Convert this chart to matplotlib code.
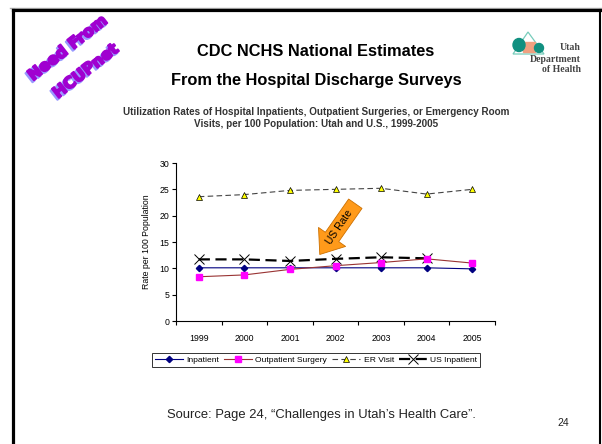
import numpy as np
import matplotlib.pyplot as plt
from matplotlib.patches import FancyArrowPatch, Polygon, Ellipse, Rectangle
from matplotlib.lines import Line2D
import matplotlib.patheffects as pe

plt.rcParams['font.family'] = ['Liberation Sans', 'DejaVu Sans']

years = ['1999', '2000', '2001', '2002', '2003', '2004', '2005']
inpatient = [10.1, 10.1, 10.1, 10.1, 10.1, 10.1, 9.9]
outpatient = [8.4, 8.75, 9.8, 10.5, 11.1, 11.8, 11.0]
er_visit = [23.6, 24.0, 24.8, 25.0, 25.2, 24.1, 25.0]
us_inpatient = [11.7, 11.7, 11.4, 11.8, 12.1, 11.9]

fig = plt.figure(figsize=(6.02, 4.44), dpi=100)
W, H = 602, 444

def fx(px):
    return px / W

def fy(py):
    return 1 - py / H

# slide frame
fig.add_artist(Line2D([fx(10), fx(602)], [fy(8), fy(8)], color='#aaaaaa', lw=1))
fig.add_artist(Line2D([fx(13), fx(13)], [fy(10), 0], color='black', lw=2.3))
fig.add_artist(Line2D([fx(13), fx(600)], [fy(10), fy(10)], color='black', lw=2.3))
fig.add_artist(Line2D([fx(600), fx(600)], [fy(10), 0], color='black', lw=1.5))

# titles
fig.text(fx(316), fy(52), 'CDC NCHS National Estimates', ha='center', va='center',
         fontsize=11.8, fontweight='bold')
fig.text(fx(316), fy(81), 'From the Hospital Discharge Surveys', ha='center', va='center',
         fontsize=11.8, fontweight='bold')
fig.text(fx(316), fy(118), 'Utilization Rates of Hospital Inpatients, Outpatient Surgeries, or Emergency Room\n'
         'Visits, per 100 Population: Utah and U.S., 1999-2005', ha='center', va='center',
         fontsize=7.1, fontweight='bold', color='#333333', linespacing=1.3)

# "Need From HCUPnet" stamp
for txt, (cx, cy) in [('Need From', (68, 48)), ('HCUPnet', (86, 71))]:
    fig.text(fx(cx - 1.5), fy(cy + 2), txt, ha='center', va='center', rotation=38,
             fontsize=11.3, fontweight='bold', color='#9999ff', family='DejaVu Sans',
             path_effects=[pe.withStroke(linewidth=1.4, foreground='#9999ff')])
    fig.text(fx(cx), fy(cy), txt, ha='center', va='center', rotation=38,
             fontsize=11.3, fontweight='bold', color='#a000d0', family='DejaVu Sans',
             path_effects=[pe.withStroke(linewidth=1.4, foreground='#a000d0')])

# logo
fig.add_artist(Polygon([[fx(513), fy(54)], [fx(528), fy(32)], [fx(544), fy(54)]],
                       closed=True, fill=False, ec='#77ccbb', lw=0.9))
fig.add_artist(Rectangle((fx(523), fy(52)), fx(12), 10 / H, color='#f0a080'))
fig.add_artist(Ellipse((fx(519), fy(45)), fx(12), 13 / H, color='#119080'))
fig.add_artist(Ellipse((fx(539), fy(48)), fx(9), 9 / H, color='#119080'))
logo_font = ['Liberation Serif', 'DejaVu Serif']
fig.text(fx(581), fy(47), 'Utah', ha='right', va='center', fontsize=7, family=logo_font,
         fontweight='bold', color='#444444')
fig.text(fx(581), fy(59), 'Department', ha='right', va='center', fontsize=7, family=logo_font,
         fontweight='bold', color='#444444')
fig.text(fx(581), fy(70), 'of Health', ha='right', va='center', fontsize=7, family=logo_font,
         fontweight='bold', color='#444444')

# chart
ax = fig.add_axes([fx(176), fy(321), fx(495 - 176), (321 - 163) / H])
x = np.arange(len(years))
ax.plot(x, er_visit, color='#444444', lw=0.8, ls=(0, (5, 3)), marker='^', ms=4.5,
        mfc='#ffff00', mec='black', mew=0.5, label='ER Visit')
ax.plot(x[:len(us_inpatient)], us_inpatient, color='black', lw=1.6, ls=(0, (5, 2.5)),
        marker='x', ms=7, mec='black', mew=0.7, label='US Inpatient')
ax.plot(x, inpatient, color='#000080', lw=0.8, marker='D', ms=3.2, mfc='#000080',
        mec='#000080', label='Inpatient')
ax.plot(x, outpatient, color='#993333', lw=0.8, marker='s', ms=4, mfc='#ff00ff',
        mec='#ff00ff', label='Outpatient Surgery')

ax.set_xlim(-0.5, len(years) - 0.5)
ax.set_ylim(0, 30)
ax.set_yticks(range(0, 31, 5))
ax.set_xticks(x)
ax.set_xticklabels(years)
ax.set_xticks(np.arange(-0.5, len(years), 1), minor=True)
ax.tick_params(axis='x', which='major', length=0, labelsize=6.3, pad=9)
ax.tick_params(axis='x', which='minor', length=3, width=0.8, direction='out')
ax.tick_params(axis='y', length=3, width=0.8, labelsize=6.3, pad=2)
for s in ['top', 'right']:
    ax.spines[s].set_visible(False)
for s in ['left', 'bottom']:
    ax.spines[s].set_linewidth(0.8)
ax.set_ylabel('Rate per 100 Population', fontsize=6.3, labelpad=6)

# "US Rate" arrow
arr = FancyArrowPatch((3.47, 22.7), (2.62, 12.2), transform=ax.transData,
                      arrowstyle='simple,head_length=0.55,head_width=0.85,tail_width=0.42',
                      mutation_scale=28, fc='#ff9a1a', ec='#cc7000', lw=0.6, zorder=5)
ax.add_patch(arr)
ax.text(3.08, 17.9, 'US Rate', rotation=56, ha='center', va='center', fontsize=7.5,
        color='black', zorder=6)

handles, labels = ax.get_legend_handles_labels()
order = [2, 3, 0, 1]
leg = fig.legend([handles[i] for i in order], [labels[i] for i in order],
                 loc='center', bbox_to_anchor=(fx(316), fy(360)), ncol=4, fontsize=6.1,
                 frameon=True, fancybox=False, edgecolor='black', handlelength=3.3,
                 handletextpad=0.4, columnspacing=0.6, borderpad=0.35)
leg.get_frame().set_linewidth(0.7)

fig.text(fx(321), fy(415), 'Source: Page 24, \u201cChallenges in Utah\u2019s Health Care\u201d.',
         ha='center', va='center', fontsize=9.4, color='#222222')
fig.text(fx(563), fy(423), '24', ha='center', va='center', fontsize=7.5, color='#222222')

fig.savefig('out.png', dpi=100)
